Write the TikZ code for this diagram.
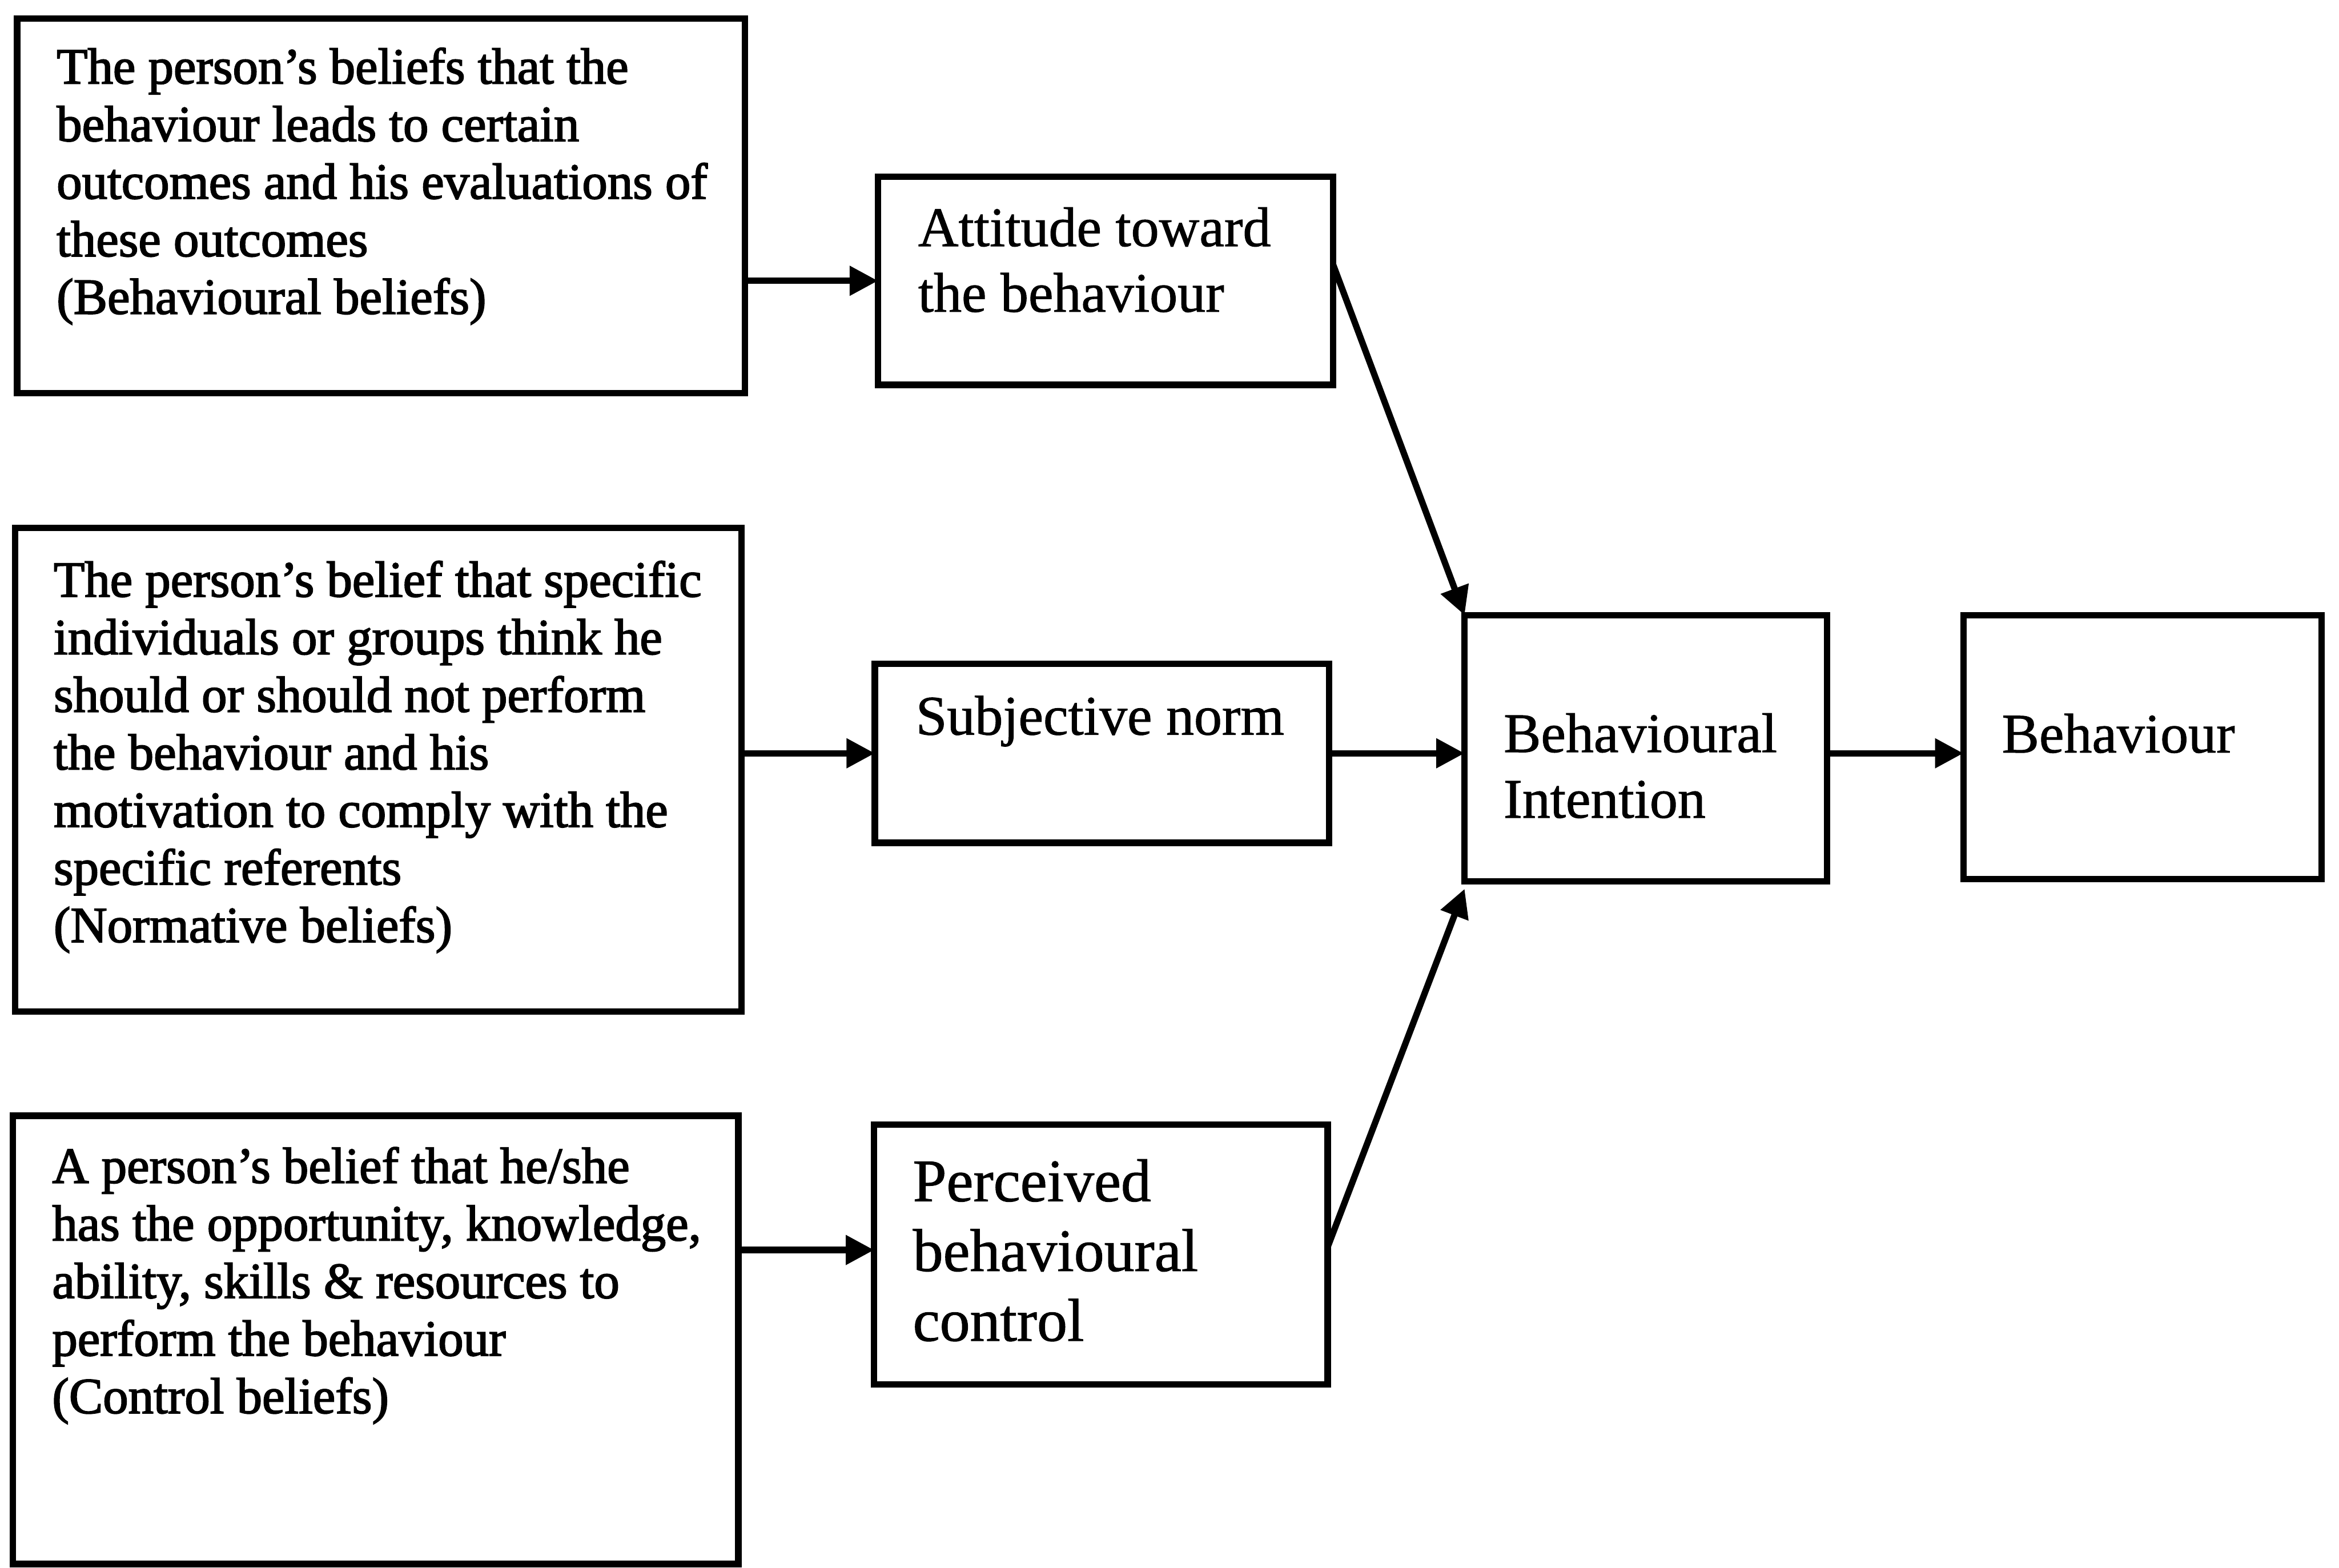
\documentclass[tikz,border=0pt]{standalone}
\usepackage{fontspec}
\setmainfont{Liberation Serif}
% slightly heavier strokes for the printed texts
\newfontfamily\beliefsfont{Liberation Serif}[FakeBold=2.2]
\newfontfamily\constructfont{Liberation Serif}[FakeBold=1.0]
\usetikzlibrary{arrows.meta}
\begin{document}
\begin{tikzpicture}[x=1pt,y=-1pt,
  box/.style={draw, line width=4.3pt, rectangle, inner sep=0pt, outer sep=0pt, anchor=north west},
  txt/.style={anchor=base west, inner sep=0pt, outer sep=0pt},
  small/.style={txt, font=\beliefsfont\fontsize{34}{38.6}\selectfont},
  large/.style={txt, font=\constructfont\fontsize{37.5}{44}\selectfont},
  larger/.style={txt, font=\constructfont\fontsize{40.5}{46.8}\selectfont},
  arr/.style={line width=4.3pt, -{Triangle[length=19pt,width=19pt]}},
]
\useasboundingbox (0,0) rectangle (1568,1050.9);

% belief boxes (left column)
\node[box, minimum width=488pt, minimum height=251pt] (A) at (11.5,12.5) {};
\node[box, minimum width=487pt, minimum height=324pt] (B) at (10,354) {};
\node[box, minimum width=486.5pt, minimum height=300.5pt] (C) at (8.5,748) {};

% construct boxes (middle column)
\node[box, minimum width=305pt, minimum height=139.5pt] (D) at (588.6,118.5) {};
\node[box, minimum width=304.5pt, minimum height=120pt] (E) at (586.5,445) {};
\node[box, minimum width=304pt, minimum height=174pt] (F) at (586,754) {};

% intention and behaviour
\node[box, minimum width=243pt, minimum height=178.5pt] (G) at (981.8,412.4) {};
\node[box, minimum width=240pt, minimum height=177pt] (H) at (1316.2,412.4) {};

% texts
\node[small] (tA) at (38,56) {\parbox[t]{470pt}{\raggedright
  The person’s beliefs that the\\
  behaviour leads to certain\\
  outcomes and his evaluations of\\
  these outcomes\\
  (Behavioural beliefs)}};
\node[small] (tB) at (36,400) {\parbox[t]{470pt}{\raggedright
  The person’s belief that specific\\
  individuals or groups think he\\
  should or should not perform\\
  the behaviour and his\\
  motivation to comply with the\\
  specific referents\\
  (Normative beliefs)}};
\node[small] (tC) at (35,793) {\parbox[t]{470pt}{\raggedright
  A person’s belief that he/she\\
  has the opportunity, knowledge,\\
  ability, skills \& resources to\\
  perform the behaviour\\
  (Control beliefs)}};

\node[large] (tD) at (615.5,165) {\parbox[t]{280pt}{\raggedright
  Attitude toward\\
  the behaviour}};
\node[large] (tE) at (614,492.5) {Subjective norm};
\node[larger] (tF) at (612,805.3) {\parbox[t]{280pt}{\raggedright
  Perceived\\
  behavioural\\
  control}};
\node[large] (tG) at (1008,504.2) {\parbox[t]{220pt}{\raggedright
  Behavioural\\
  Intention}};
\node[large] (tH) at (1342,504.5) {Behaviour};

% connectors
\draw[arr] (A.east |- D.west) -- (D.west);
\draw[arr] (B.east |- E.west) -- (E.west);
\draw[arr] ([yshift=3pt]C.east |- F.west) -- ([yshift=3pt]F.west);
\draw[arr] ([yshift=11pt]D.east) -- (G.north west);
\draw[arr] (E.east) -- (G.west |- E.east);
\draw[arr] ([yshift=5pt]F.east) -- ([yshift=-5pt]G.south west);
\draw[arr] (G.east |- E.east) -- (H.west |- E.east);
\end{tikzpicture}
\end{document}
